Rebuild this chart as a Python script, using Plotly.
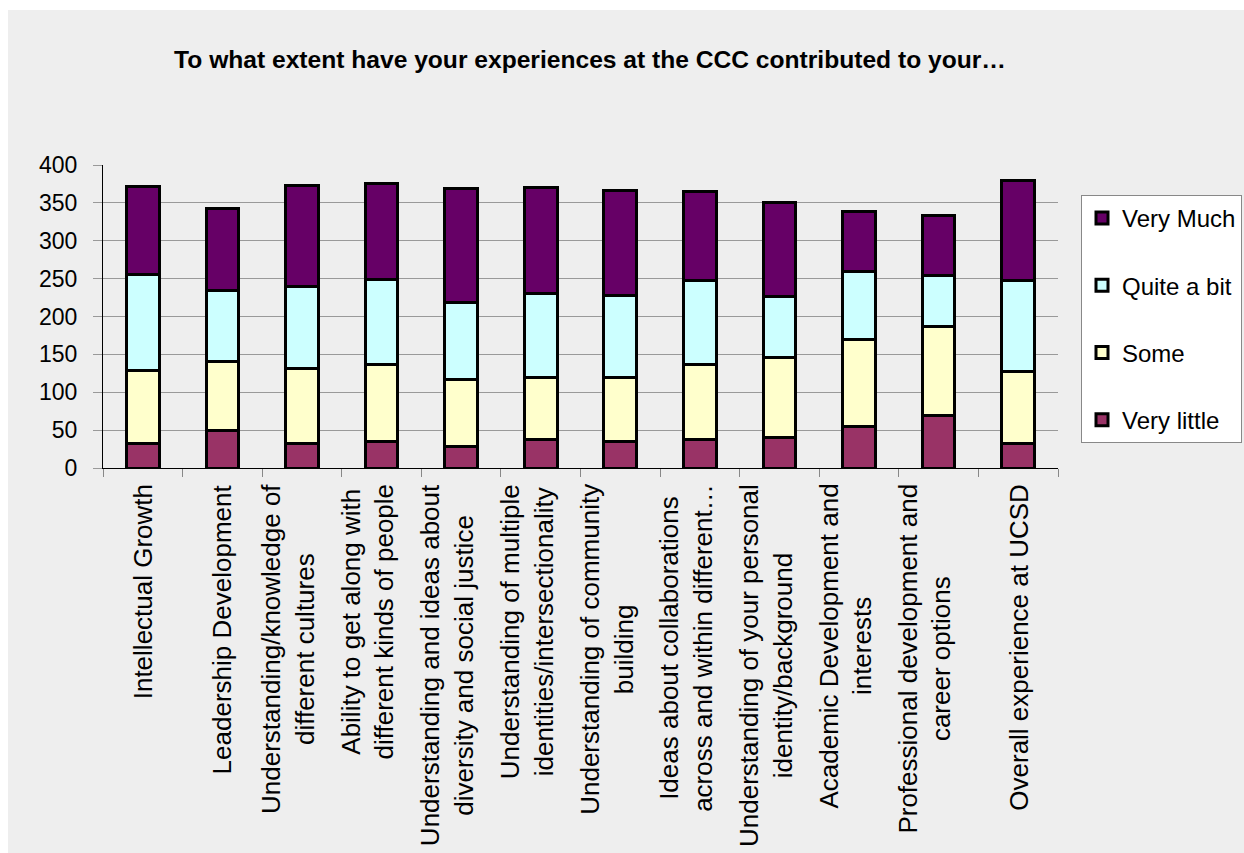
import plotly.graph_objects as go

categories = [
    "Intellectual Growth",
    "Leadership Development",
    "Understanding/knowledge of<br>different cultures",
    "Ability to get along with<br>different kinds of people",
    "Understanding and ideas about<br>diversity and social justice",
    "Understanding of multiple<br>identities/intersectionality",
    "Understanding of community<br>building",
    "Ideas about collaborations<br>across and within different…",
    "Understanding of your personal<br>identity/background",
    "Academic Development and<br>interests",
    "Professional development and<br>career options",
    "Overall experience at UCSD",
]
very_little = [32, 50, 33, 35, 28, 38, 35, 38, 40, 55, 69, 32]
some = [97, 90, 98, 102, 89, 81, 85, 98, 106, 114, 118, 96]
quite_a_bit = [127, 94, 108, 112, 102, 112, 108, 111, 80, 90, 67, 119]
very_much = [115, 108, 134, 127, 150, 139, 139, 118, 124, 80, 79, 132]

series = [
    ("Very little", very_little, "#993366", 4),
    ("Some", some, "#FFFFCC", 3),
    ("Quite a bit", quite_a_bit, "#CCFFFF", 2),
    ("Very Much", very_much, "#660066", 1),
]

FONT = "Liberation Sans, Arial, sans-serif"
W, H = 1244, 853
L, R, T, B = 103, 186, 165, 385
pw, ph = W - L - R, H - T - B

fig = go.Figure()
for name, vals, col, rank in series:
    fig.add_trace(go.Bar(
        x=list(range(len(categories))), y=vals, name=name, legendgroup=name,
        legendrank=rank,
        marker=dict(color=col, line=dict(color="black", width=3)),
    ))

annotations = []
for i, lab in enumerate(categories):
    n = lab.count("<br>") + 1
    annotations.append(dict(
        x=i, y=0, xref="x", yref="y", text=lab, showarrow=False,
        textangle=-90, xanchor="center", yanchor="top", align="center",
        yshift=-14, xshift=-14 * (n - 1),
        font=dict(family=FONT, size=26, color="black"),
    ))

# grey chart-area background (page has a thin white border)
bg = dict(type="rect", xref="paper", yref="paper", layer="below",
          x0=(8 - L) / pw, x1=(W - L) / pw,
          y0=-(B) / ph, y1=(H - 10 - B) / ph,
          fillcolor="#EEEEEE", line=dict(width=0))

fig.update_layout(
    width=W, height=H, autosize=False,
    margin=dict(l=L, r=R, t=T, b=B, pad=0),
    paper_bgcolor="white", plot_bgcolor="rgba(0,0,0,0)",
    barmode="stack", bargap=0.59,
    font=dict(family=FONT, color="black"),
    title=dict(text="<b>To what extent have your experiences at the CCC contributed to your…</b>",
               x=590 / W, xref="container", xanchor="center",
               y=1 - 59 / H, yref="container", yanchor="middle",
               font=dict(family=FONT, size=24.6, color="black")),
    xaxis=dict(type="linear", range=[-0.5, len(categories) - 0.5],
               tickmode="array", tickvals=[i - 0.5 for i in range(len(categories) + 1)],
               showticklabels=False, ticks="outside", ticklen=8, tickcolor="#888888",
               showgrid=False, zeroline=False, showline=True, linecolor="black", linewidth=1,
               automargin=False),
    yaxis=dict(range=[0, 400], dtick=50, tick0=0, showgrid=True, gridcolor="#999999", gridwidth=1,
               ticks="outside", ticklen=9, tickcolor="#999999", ticklabelstandoff=11,
               tickfont=dict(family=FONT, size=23, color="black"),
               zeroline=False, showline=True, linecolor="black", linewidth=1,
               automargin=False),
    legend=dict(x=1081 / W, xref="container", y=1 - 195 / H, yref="container",
                xanchor="left", yanchor="top",
                bgcolor="white", bordercolor="#888888", borderwidth=1,
                font=dict(family=FONT, size=24, color="black"),
                traceorder="grouped", tracegroupgap=33,
                itemclick=False),
    shapes=[bg],
    annotations=annotations,
    showlegend=True,
)

fig.write_html("out.html")
